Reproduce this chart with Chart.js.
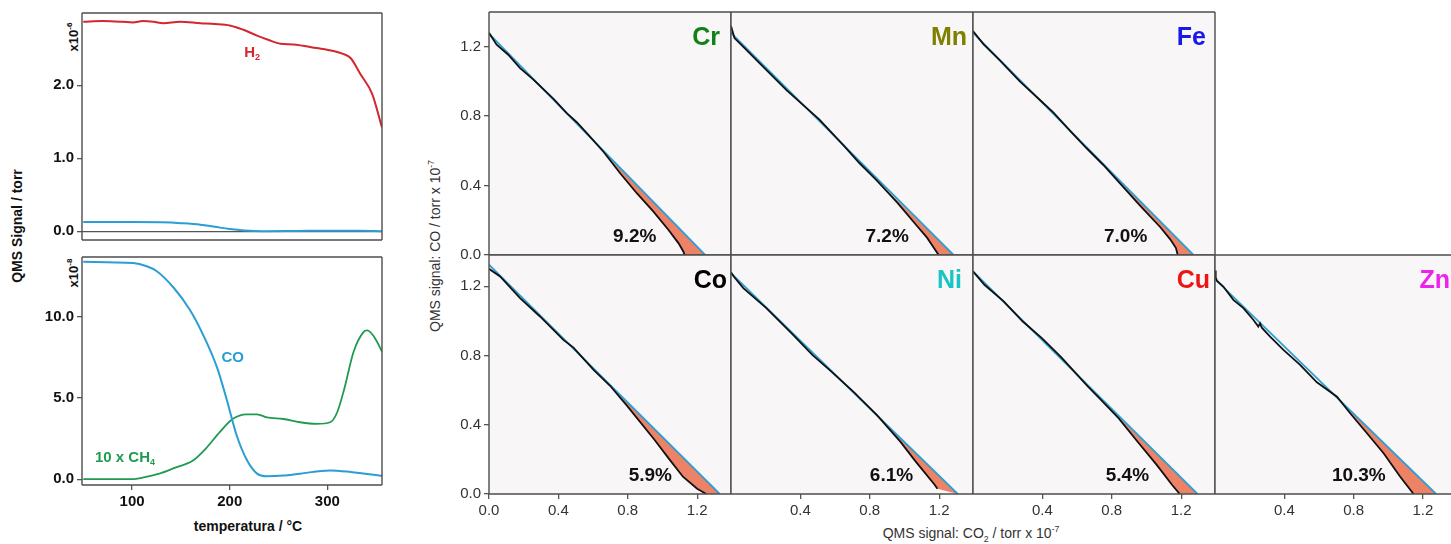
<!DOCTYPE html>
<html>
<head>
<meta charset="utf-8">
<title>QMS</title>
<script src="https://cdn.jsdelivr.net/npm/chart.js@4.4.1/dist/chart.umd.min.js"></script>
<style>
  html, body { margin: 0; padding: 0; background: #fff; }
  #stage { position: relative; width: 1451px; height: 544px; overflow: hidden; font-family: "Liberation Sans", Arial, sans-serif; }
  #stage canvas { position: absolute; }
  .lbl { position: absolute; white-space: nowrap; line-height: 1; transform: translate(-50%, -50%); }
  .rot { transform: translate(-50%, -50%) rotate(-90deg); }
  .lbl sup, .lbl sub { font-size: 62%; line-height: 0; }
</style>
</head>
<body>
<div id="stage">
  <div class="lbl rot" style="left:17px;top:226px;font-size:14px;font-weight:bold;color:#111">QMS Signal / torr</div>
  <div class="lbl" style="left:248px;top:526px;font-size:14px;font-weight:bold;color:#111">temperatura / °C</div>
  <div class="lbl rot" style="left:73px;top:37px;font-size:13px;font-weight:bold;color:#111">x10<sup>-6</sup></div>
  <div class="lbl rot" style="left:73px;top:273px;font-size:13px;font-weight:bold;color:#111">x10<sup>-8</sup></div>
  <div class="lbl rot" style="left:435px;top:246px;font-size:14px;color:#333">QMS signal: CO / torr x 10<sup>-7</sup></div>
  <div class="lbl" style="left:971px;top:533px;font-size:14px;color:#333">QMS signal: CO<sub>2</sub> / torr x 10<sup>-7</sup></div>
</div>
<script>
// --- left: temperature scan (top panel x10^-6 torr, bottom panel x10^-8 torr)
const tempH2 = [50, 70, 90, 101, 111, 122, 132, 149, 170, 185, 200, 214, 228, 240, 252, 265, 289, 306, 316, 324, 334, 346, 356];
const h2Signal = [2.87, 2.88, 2.87, 2.86, 2.88, 2.87, 2.85, 2.87, 2.85, 2.84, 2.82, 2.76, 2.68, 2.62, 2.57, 2.56, 2.51, 2.47, 2.43, 2.37, 2.15, 1.88, 1.42];
const tempCOTop = [50, 100, 130, 150, 170, 185, 200, 215, 235, 270, 300, 330, 356];
const coSignalTop = [0.128, 0.128, 0.122, 0.11, 0.09, 0.06, 0.03, 0.01, 0.0, 0.004, 0.008, 0.006, 0.0];
const tempCO = [50, 101, 115, 125, 142, 159, 173, 187, 197, 207, 218, 228, 238, 255, 272, 303, 324, 356];
const coSignal = [13.4, 13.33, 13.13, 12.84, 11.85, 10.46, 8.87, 6.89, 4.9, 2.72, 1.13, 0.34, 0.18, 0.22, 0.34, 0.54, 0.44, 0.2];
const tempCH4 = [50, 101, 111, 128, 145, 162, 176, 190, 203, 217, 228, 238, 255, 272, 289, 303, 310, 317, 327, 337, 341, 348, 356];
const ch4Signal10x = [0, 0, 0.1, 0.34, 0.73, 1.13, 1.92, 2.92, 3.71, 4.0, 4.0, 3.81, 3.71, 3.51, 3.41, 3.51, 4.11, 5.49, 7.87, 9.07, 9.17, 8.77, 7.87];
const tempTicks = [100, 200, 300];
const topTicks = [0, 1, 2];
const bottomTicks = [0, 5, 10];

// --- right: CO vs CO2 per metal (x10^-7 torr)
const metals = ['Cr', 'Mn', 'Fe', 'Co', 'Ni', 'Cu', 'Zn'];
const deficit = ['9.2%', '7.2%', '7.0%', '5.9%', '6.1%', '5.4%', '10.3%'];
const fitStartCO = [1.275, 1.28, 1.28, 1.324, 1.275, 1.285, 1.241];
const fitEndCO2 = [1.246, 1.283, 1.271, 1.33, 1.307, 1.294, 1.276];
const deviationCO2 = [0.66, 0.84, 0.75, 0.698, 0.844, 0.728, 0.704];
const co2Cr = [0, 0.044, 0.111, 0.179, 0.256, 0.372, 0.448, 0.506, 0.564, 0.66, 0.756, 0.852, 0.948, 1.035, 1.093, 1.121, 1.127];
const coCr = [1.28, 1.212, 1.154, 1.077, 1.01, 0.9, 0.817, 0.765, 0.702, 0.595, 0.471, 0.356, 0.25, 0.144, 0.067, 0.019, 0];
const co2Mn = [0, 0.02, 0.08, 0.17, 0.32, 0.51, 0.65, 0.74, 0.84, 0.96, 1.07, 1.13, 1.17, 1.197];
const coMn = [1.32, 1.25, 1.19, 1.1, 0.95, 0.78, 0.63, 0.53, 0.43, 0.3, 0.17, 0.1, 0.04, 0];
const co2Fe = [0, 0.06, 0.156, 0.27, 0.4, 0.464, 0.56, 0.655, 0.75, 0.85, 0.963, 1.08, 1.137, 1.17, 1.18];
const coFe = [1.29, 1.215, 1.12, 1.0, 0.88, 0.82, 0.715, 0.615, 0.52, 0.41, 0.285, 0.16, 0.09, 0.04, 0];
const co2Co = [0, 0.064, 0.179, 0.294, 0.429, 0.487, 0.603, 0.698, 0.795, 0.955, 1.04, 1.118, 1.2, 1.253];
const coCo = [1.3, 1.256, 1.131, 1.025, 0.89, 0.845, 0.717, 0.625, 0.51, 0.312, 0.2, 0.1, 0.03, 0];
const co2Ni = [0, 0.016, 0.071, 0.204, 0.358, 0.469, 0.579, 0.711, 0.844, 0.976, 1.065, 1.175, 1.19];
const coNi = [1.28, 1.256, 1.189, 1.073, 0.919, 0.803, 0.707, 0.585, 0.452, 0.302, 0.187, 0.052, 0.03];
const co2Cu = [0, 0.066, 0.177, 0.287, 0.397, 0.508, 0.663, 0.728, 0.839, 0.949, 1.059, 1.148, 1.192];
const coCu = [1.285, 1.208, 1.112, 0.996, 0.9, 0.79, 0.62, 0.553, 0.438, 0.302, 0.168, 0.052, 0];
const co2Zn = [0, 0.004, 0.012, 0.048, 0.106, 0.164, 0.221, 0.25, 0.26, 0.27, 0.318, 0.395, 0.491, 0.588, 0.704, 0.78, 0.877, 0.973, 1.069, 1.146];
const coZn = [1.29, 1.25, 1.23, 1.198, 1.121, 1.073, 1.006, 0.967, 0.985, 0.96, 0.909, 0.832, 0.746, 0.645, 0.562, 0.466, 0.351, 0.235, 0.1, 0];
const qmsTicks = [0, 0.4, 0.8, 1.2];
const qmsTicksInner = [0.4, 0.8, 1.2];

const FONT = '"Liberation Sans", Arial, sans-serif';
const FRAME = '#4d4d4d';

function drawRich(ctx, parts, x, y, size, color, align) {
  const fontFor = p => 'bold ' + (p[1] ? Math.round(size * 0.62) : size) + 'px ' + FONT;
  let w = 0;
  parts.forEach(p => { ctx.font = fontFor(p); w += ctx.measureText(p[0]).width; });
  let cx = align === 'center' ? x - w / 2 : align === 'right' ? x - w : x;
  ctx.fillStyle = color;
  ctx.textAlign = 'left';
  ctx.textBaseline = 'middle';
  parts.forEach(p => {
    ctx.font = fontFor(p);
    const dy = p[1] === -1 ? size * 0.32 : p[1] === 1 ? -size * 0.35 : 0;
    ctx.fillText(p[0], cx, y + dy);
    cx += ctx.measureText(p[0]).width;
  });
}

function decoPlugin(d) {
  return {
    id: 'deco',
    beforeDraw(chart) {
      if (!d.bg) return;
      const a = chart.chartArea, ctx = chart.ctx;
      ctx.save();
      ctx.fillStyle = d.bg;
      ctx.fillRect(a.left, a.top, a.right - a.left, a.bottom - a.top);
      ctx.restore();
    },
    afterDraw(chart) {
      const a = chart.chartArea, ctx = chart.ctx;
      ctx.save();
      ctx.strokeStyle = FRAME;
      ctx.lineWidth = 1.4;
      ctx.beginPath();
      if (d.sides.includes('t')) { ctx.moveTo(a.left, a.top); ctx.lineTo(a.right, a.top); }
      if (d.sides.includes('b')) { ctx.moveTo(a.left, a.bottom); ctx.lineTo(a.right, a.bottom); }
      if (d.sides.includes('l')) { ctx.moveTo(a.left, a.top); ctx.lineTo(a.left, a.bottom); }
      if (d.sides.includes('r')) { ctx.moveTo(a.right, a.top); ctx.lineTo(a.right, a.bottom); }
      ctx.stroke();
      (d.labels || []).forEach(l => {
        const [px, py] = l.at(chart);
        drawRich(ctx, l.parts, px, py, l.size, l.color, l.align);
      });
      ctx.restore();
    }
  };
}

function axis(o) {
  return {
    type: 'linear',
    min: o.min,
    max: o.max,
    afterBuildTicks: s => { s.ticks = o.ticks.map(v => ({ value: v })); },
    border: { display: false },
    grid: {
      display: o.ticks.length > 0,
      drawOnChartArea: !!o.zeroLine,
      color: c => (o.zeroLine && c.tick && c.tick.value === 0) ? '#555' : 'rgba(0,0,0,0)',
      tickColor: '#555',
      tickLength: 5,
      lineWidth: 1.3
    },
    ticks: {
      display: o.ticks.length > 0,
      autoSkip: false,
      maxRotation: 0,
      padding: 3,
      color: o.bold ? '#111' : '#333',
      font: { family: FONT, size: 15, weight: o.bold ? 'bold' : 'normal' },
      callback: v => o.fmt(v)
    }
  };
}

function makeChart(box, pad, datasets, xAxis, yAxis, deco) {
  const [l, t, w, h] = box;
  const [pl, pt, pr, pb] = pad;
  const canvas = document.createElement('canvas');
  canvas.width = w + pl + pr;
  canvas.height = h + pt + pb;
  canvas.style.left = (l - pl) + 'px';
  canvas.style.top = (t - pt) + 'px';
  document.getElementById('stage').appendChild(canvas);
  xAxis.afterFit = s => { s.height = pb; };
  yAxis.afterFit = s => { s.width = pl; };
  return new Chart(canvas, {
    type: 'scatter',
    data: { datasets },
    options: {
      responsive: false,
      animation: false,
      devicePixelRatio: 1,
      layout: { padding: { left: 0, top: pt, right: pr, bottom: 0 } },
      plugins: { legend: { display: false }, tooltip: { enabled: false } },
      scales: { x: xAxis, y: yAxis }
    },
    plugins: [decoPlugin(deco)]
  });
}

const pairs = (xs, ys) => xs.map((x, i) => ({ x, y: ys[i] }));
const lineSet = (data, color, width, extra) => Object.assign({
  data, showLine: true, borderColor: color, borderWidth: width, pointRadius: 0, fill: false
}, extra || {});
const atData = (x, y) => chart => [chart.scales.x.getPixelForValue(x), chart.scales.y.getPixelForValue(y)];

// left, top panel
makeChart([82, 13, 300, 235], [62, 12, 12, 4], [
  lineSet(pairs(tempH2, h2Signal), '#d3262e', 2, { cubicInterpolationMode: 'monotone' }),
  lineSet(pairs(tempCOTop, coSignalTop), '#2a9ed2', 2, { cubicInterpolationMode: 'monotone' })
],
  axis({ min: 48.7, max: 356, ticks: [], fmt: v => v }),
  axis({ min: -0.12, max: 2.99, ticks: topTicks, bold: true, zeroLine: true, fmt: v => v.toFixed(1) }),
  { sides: 'tlrb', labels: [
    { parts: [['H', 0], ['2', -1]], at: atData(223, 2.44), size: 15, color: '#d3262e', align: 'center' }
  ] });

// left, bottom panel
makeChart([82, 249, 300, 236], [62, 4, 12, 40], [
  lineSet(pairs(tempCO, coSignal), '#2a9ed2', 2, { cubicInterpolationMode: 'monotone' }),
  lineSet(pairs(tempCH4, ch4Signal10x), '#1f9a50', 1.8, { cubicInterpolationMode: 'monotone' })
],
  axis({ min: 48.7, max: 356, ticks: tempTicks, bold: true, fmt: v => String(v) }),
  axis({ min: -0.36, max: 13.7, ticks: bottomTicks, bold: true, fmt: v => v.toFixed(1) }),
  { sides: 'tlrb', labels: [
    { parts: [['CO', 0]], at: atData(203, 7.5), size: 15, color: '#2a9ed2', align: 'center' },
    { parts: [['10 x CH', 0], ['4', -1]], at: atData(62, 1.31), size: 15, color: '#1f9a50', align: 'left' }
  ] });

// right grid: one panel per metal
const rightPanels = [
  { box: [489, 12, 242, 243], pad: [60, 12, 10, 14], yMax: 1.40, xMax: 1.395, xTicks: [], yTicks: qmsTicks, sides: 'tlrb', color: '#10821a', inset: 11, pctX: 0.84 },
  { box: [731, 12, 242, 243], pad: [12, 12, 10, 14], yMax: 1.40, xMax: 1.395, xTicks: [], yTicks: [], sides: 'tlrb', color: '#808000', inset: 6, pctX: 0.90 },
  { box: [973, 12, 242, 243], pad: [12, 12, 10, 14], yMax: 1.40, xMax: 1.395, xTicks: [], yTicks: [], sides: 'tlrb', color: '#1a1ae8', inset: 9, pctX: 0.88 },
  { box: [489, 255, 242, 239], pad: [60, 12, 10, 40], yMax: 1.38, xMax: 1.395, xTicks: qmsTicks, yTicks: qmsTicks, sides: 'tlrb', color: '#000000', inset: 4, pctX: 0.93 },
  { box: [731, 255, 242, 239], pad: [12, 12, 10, 40], yMax: 1.38, xMax: 1.395, xTicks: qmsTicksInner, yTicks: [], sides: 'tlrb', color: '#18c4c4', inset: 11, pctX: 0.925 },
  { box: [973, 255, 242, 239], pad: [12, 12, 10, 40], yMax: 1.38, xMax: 1.395, xTicks: qmsTicksInner, yTicks: [], sides: 'tlrb', color: '#ee1414', inset: 5, pctX: 0.89 },
  { box: [1215, 255, 236, 239], pad: [12, 12, 0, 40], yMax: 1.38, xMax: 1.362, xTicks: qmsTicksInner, yTicks: [], sides: 'tlb', color: '#ee22ee', inset: 1, pctX: 0.83 }
];
const curves = [[co2Cr, coCr], [co2Mn, coMn], [co2Fe, coFe], [co2Co, coCo], [co2Ni, coNi], [co2Cu, coCu], [co2Zn, coZn]];

metals.forEach((m, i) => {
  const p = rightPanels[i];
  const pts = pairs(curves[i][0], curves[i][1]);
  const fit = [{ x: 0, y: fitStartCO[i] }, { x: fitEndCO2[i], y: 0 }];
  const tail = pts.filter(q => q.x >= deviationCO2[i]);
  const gap = tail.concat([fit[1], tail[0]]);
  makeChart(p.box, p.pad, [
    lineSet(pts, '#111', 1.8, { order: 0 }),
    lineSet(fit, '#2c9fd3', 1.8, { order: 1 }),
    lineSet(gap, 'rgba(0,0,0,0)', 0, { order: 2, fill: 'shape', backgroundColor: '#ee8266' })
  ],
    axis({ min: 0, max: p.xMax, ticks: p.xTicks, fmt: v => v.toFixed(1) }),
    axis({ min: 0, max: p.yMax, ticks: p.yTicks, fmt: v => v.toFixed(1) }),
    { bg: '#f8f6f7', sides: p.sides, labels: [
      { parts: [[m, 0]], at: c => [c.chartArea.right - p.inset, c.chartArea.top + 26], size: 25, color: p.color, align: 'right' },
      { parts: [[deficit[i], 0]], at: c => [c.scales.x.getPixelForValue(p.pctX), c.chartArea.bottom - 18], size: 19, color: '#111', align: 'center' }
    ] });
});
</script>
</body>
</html>
